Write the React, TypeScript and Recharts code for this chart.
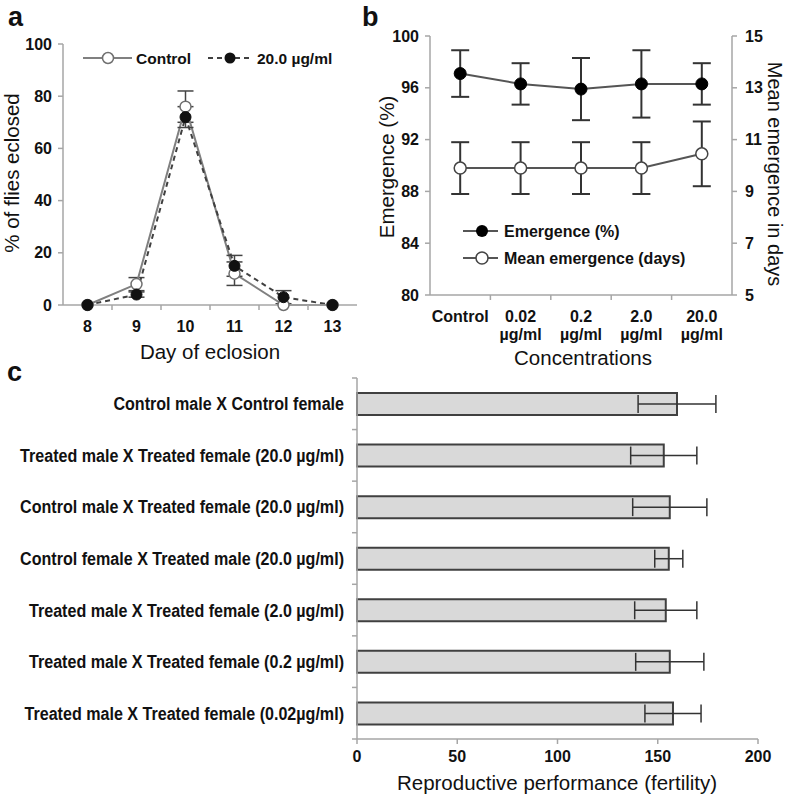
import React from 'react';
import { ComposedChart, BarChart, Bar, Line, XAxis, YAxis, ErrorBar } from 'recharts';

// panel a: eclosion by day
const days = ['8', '9', '10', '11', '12', '13'];
const controlEclosed = [0, 8, 76, 12, 0, 0];
const controlEclosedErr = [0, 2.5, 6, 4.5, 0, 0];
const treatedEclosed = [0, 4, 72, 15, 3, 0];
const treatedEclosedErr = [0, 1, 4, 4, 2.5, 0];
const eclosionTicks = [0, 20, 40, 60, 80, 100];

// panel b: emergence by concentration
const concentrations = ['Control', '0.02 µg/ml', '0.2 µg/ml', '2.0 µg/ml', '20.0 µg/ml'];
const emergencePct = [97.1, 96.3, 95.9, 96.3, 96.3];
const emergencePctErr = [1.8, 1.6, 2.4, 2.6, 1.6];
const meanDays = [9.9, 9.9, 9.9, 9.9, 10.45];
const meanDaysErr = [1, 1, 1, 1, 1.25];
const pctTicks = [80, 84, 88, 92, 96, 100];
const dayTicks = [5, 7, 9, 11, 13, 15];

// panel c: fertility by cross
const crosses = [
    'Control male X Control female',
    'Treated male X Treated female (20.0 µg/ml)',
    'Control male X Treated female (20.0 µg/ml)',
    'Control female X Treated male (20.0 µg/ml)',
    'Treated male X Treated female (2.0 µg/ml)',
    'Treated male X Treated female (0.2 µg/ml)',
    'Treated male X Treated female (0.02µg/ml)',
];
const fertility = [159.6, 153, 156, 155.5, 154, 156, 157.6];
const fertilityErr = [19.4, 16.5, 18.5, 7, 15.5, 17, 14];
const fertilityTicks = [0, 50, 100, 150, 200];

const FONT = '"Liberation Sans", Arial, sans-serif';
const AXIS = '#a6a6a6';
const INK = '#111';

const dataA = days.map((d, i) => ({
    day: d,
    control: controlEclosed[i],
    controlErr: controlEclosedErr[i],
    treated: treatedEclosed[i],
    treatedErr: treatedEclosedErr[i],
}));

const dataB = concentrations.map((c, i) => ({
    conc: c,
    pct: emergencePct[i],
    pctErr: emergencePctErr[i],
    days: meanDays[i],
    daysErr: meanDaysErr[i],
}));

const dataC = crosses.map((c, i) => ({ cross: c, value: fertility[i], err: fertilityErr[i] }));

const tickStyle = (size: number) => ({ fill: INK, fontSize: size, fontWeight: 700, fontFamily: FONT });

// category tick with tick marks on band edges (like Excel)
const makeBandTickX = (bw: number, size: number) => (props: any) => {
    const { x, y, payload, index } = props;
    const parts = String(payload.value).split(' ');
    const first = parts[0];
    const rest = parts.slice(1).join(' ');
    return (
        <g>
            {index > 0 && <line x1={x - bw / 2} x2={x - bw / 2} y1={y} y2={y + 5} stroke={AXIS} strokeWidth={1.5} />}
            <text x={x} y={y + 27} textAnchor="middle" {...tickStyle(size)}>{first}</text>
            {rest && <text x={x} y={y + 45} textAnchor="middle" {...tickStyle(size)}>{rest}</text>}
        </g>
    );
};

// condensed bold labels: Arial Narrow is not installed, so squeeze Liberation Sans
const makeBandTickY = (bw: number, count: number) => (props: any) => {
    const { x, y, payload, index } = props;
    return (
        <g>
            <line x1={x - 5} x2={x} y1={y - bw / 2} y2={y - bw / 2} stroke={AXIS} strokeWidth={1.5} />
            {index === count - 1 && <line x1={x - 5} x2={x} y1={y + bw / 2} y2={y + bw / 2} stroke={AXIS} strokeWidth={1.5} />}
            <text transform={`translate(${x - 13},${y + 6.5}) scale(0.87,1)`} textAnchor="end"
                fill={INK} fontSize={18.5} fontWeight={700} fontFamily={FONT}>
                {payload.value}
            </text>
        </g>
    );
};

const PanelA = () => (
    <ComposedChart width={370} height={345} data={dataA} margin={{ top: 44, right: 13, left: 0, bottom: 0 }}>
        <XAxis
            dataKey="day"
            scale="band"
            height={40}
            axisLine={{ stroke: AXIS, strokeWidth: 1.5 }}
            tickLine={false}
            tickSize={0}
            tickMargin={0}
            interval={0}
            tick={makeBandTickX(49, 16)}
        />
        <YAxis
            width={63}
            domain={[0, 100]}
            ticks={eclosionTicks}
            axisLine={{ stroke: AXIS, strokeWidth: 1.5 }}
            tickLine={{ stroke: AXIS, strokeWidth: 1.5 }}
            tickSize={5}
            tickMargin={6}
            tick={tickStyle(16)}
        />
        <Line dataKey="control" stroke="#808080" strokeWidth={2} isAnimationActive={false}
            dot={{ r: 5.5, fill: '#fff', stroke: '#707070', strokeWidth: 1.5 }} activeDot={false}>
            <ErrorBar dataKey="controlErr" width={8} stroke="#444" strokeWidth={1.5} direction="y" />
        </Line>
        <Line dataKey="treated" stroke="#404040" strokeWidth={2} strokeDasharray="5 4" isAnimationActive={false}
            dot={{ r: 5.5, fill: '#111', stroke: '#111', strokeWidth: 1, strokeDasharray: '' }} activeDot={false}>
            <ErrorBar dataKey="treatedErr" width={8} stroke="#444" strokeWidth={1.5} direction="y" />
        </Line>
    </ComposedChart>
);

const PanelB = () => (
    <ComposedChart width={417} height={345} data={dataB} margin={{ top: 36, right: 0, left: 0, bottom: 0 }}>
        <XAxis
            dataKey="conc"
            scale="band"
            height={50}
            axisLine={{ stroke: AXIS, strokeWidth: 1.5 }}
            tickLine={false}
            tickSize={0}
            tickMargin={0}
            interval={0}
            tick={makeBandTickX(60.4, 16)}
        />
        <YAxis
            yAxisId="pct"
            width={60}
            domain={[80, 100]}
            ticks={pctTicks}
            axisLine={{ stroke: AXIS, strokeWidth: 1.5 }}
            tickLine={{ stroke: AXIS, strokeWidth: 1.5 }}
            tickSize={5}
            tickMargin={6}
            tick={tickStyle(16)}
        />
        <YAxis
            yAxisId="days"
            orientation="right"
            width={55}
            domain={[5, 15]}
            ticks={dayTicks}
            axisLine={{ stroke: AXIS, strokeWidth: 1.5 }}
            tickLine={{ stroke: AXIS, strokeWidth: 1.5 }}
            tickSize={5}
            tickMargin={8}
            tick={tickStyle(16)}
        />
        <Line yAxisId="pct" dataKey="pct" stroke="#555" strokeWidth={2} isAnimationActive={false}
            dot={{ r: 6, fill: '#000', stroke: '#000', strokeWidth: 1 }} activeDot={false}>
            <ErrorBar dataKey="pctErr" width={9} stroke="#333" strokeWidth={2} direction="y" />
        </Line>
        <Line yAxisId="days" dataKey="days" stroke="#555" strokeWidth={2} isAnimationActive={false}
            dot={{ r: 6, fill: '#fff', stroke: '#444', strokeWidth: 1.5 }} activeDot={false}>
            <ErrorBar dataKey="daysErr" width={9} stroke="#333" strokeWidth={2} direction="y" />
        </Line>
    </ComposedChart>
);

const PanelC = () => (
    <BarChart layout="vertical" width={787} height={395} data={dataC} margin={{ top: 8, right: 29, left: 0, bottom: 0 }}>
        <XAxis
            type="number"
            domain={[0, 200]}
            ticks={fertilityTicks}
            height={26}
            axisLine={{ stroke: AXIS, strokeWidth: 1.5 }}
            tickLine={{ stroke: AXIS, strokeWidth: 1.5 }}
            tickSize={5}
            tickMargin={7}
            tick={tickStyle(16)}
        />
        <YAxis
            type="category"
            dataKey="cross"
            width={357}
            axisLine={{ stroke: AXIS, strokeWidth: 1.5 }}
            tickLine={false}
            tickSize={0}
            tickMargin={0}
            interval={0}
            tick={makeBandTickY(51.57, crosses.length)}
        />
        <Bar dataKey="value" barSize={22} fill="#d9d9d9" stroke="#404040" strokeWidth={2} isAnimationActive={false}>
            <ErrorBar dataKey="err" width={9} stroke="#333" strokeWidth={1.5} direction="x" />
        </Bar>
    </BarChart>
);

const titleStyle = { fontFamily: FONT, fontSize: 20.5, fill: INK };
const letterStyle = { fontFamily: FONT, fontSize: 27, fontWeight: 700, fill: INK };
const legendStyle = { fontFamily: FONT, fontSize: 15.5, fontWeight: 700, fill: INK };

export default function App() {
    return (
        <div style={{ position: 'absolute', left: 0, top: 0, width: 787, height: 795, background: '#fff', overflow: 'hidden' }}>
            <div style={{ position: 'absolute', left: 0, top: 0 }}><PanelA /></div>
            <div style={{ position: 'absolute', left: 370, top: 0 }}><PanelB /></div>
            <div style={{ position: 'absolute', left: 0, top: 370 }}><PanelC /></div>
            <svg width={787} height={795} style={{ position: 'absolute', left: 0, top: 0, pointerEvents: 'none' }}>
                <text x={8} y={26} {...letterStyle}>a</text>
                <text x={362} y={26} {...letterStyle}>b</text>
                <text x={7} y={381} {...letterStyle}>c</text>

                <text transform="translate(19,173) rotate(-90)" textAnchor="middle" {...titleStyle}>% of flies eclosed</text>
                <text x={210} y={359} textAnchor="middle" {...titleStyle}>Day of eclosion</text>
                <text transform="translate(394,167) rotate(-90)" textAnchor="middle" {...titleStyle}>Emergence (%)</text>
                <text transform="translate(768,174) rotate(90)" textAnchor="middle" {...titleStyle} fontSize={20}>Mean emergence in days</text>
                <text x={583} y={365} textAnchor="middle" {...titleStyle}>Concentrations</text>
                <text x={557} y={790} textAnchor="middle" {...titleStyle}>Reproductive performance (fertility)</text>

                {/* legend a */}
                <line x1={83} x2={132} y1={58} y2={58} stroke="#808080" strokeWidth={2} />
                <circle cx={108} cy={58} r={5.5} fill="#fff" stroke="#707070" strokeWidth={1.5} />
                <text x={136} y={64} {...legendStyle}>Control</text>
                <line x1={208} x2={252} y1={58} y2={58} stroke="#404040" strokeWidth={2} strokeDasharray="5 4" />
                <circle cx={230} cy={58} r={5.5} fill="#111" />
                <text x={257} y={64} {...legendStyle}>20.0 µg/ml</text>

                {/* legend b */}
                <line x1={463} x2={498} y1={231} y2={231} stroke="#555" strokeWidth={2} />
                <circle cx={482} cy={231} r={6} fill="#000" />
                <text x={504} y={237} {...legendStyle} fontSize={16}>Emergence (%)</text>
                <line x1={463} x2={498} y1={258} y2={258} stroke="#555" strokeWidth={2} />
                <circle cx={482} cy={258} r={6} fill="#fff" stroke="#444" strokeWidth={1.5} />
                <text x={504} y={264} {...legendStyle} fontSize={16}>Mean emergence (days)</text>
            </svg>
        </div>
    );
}
